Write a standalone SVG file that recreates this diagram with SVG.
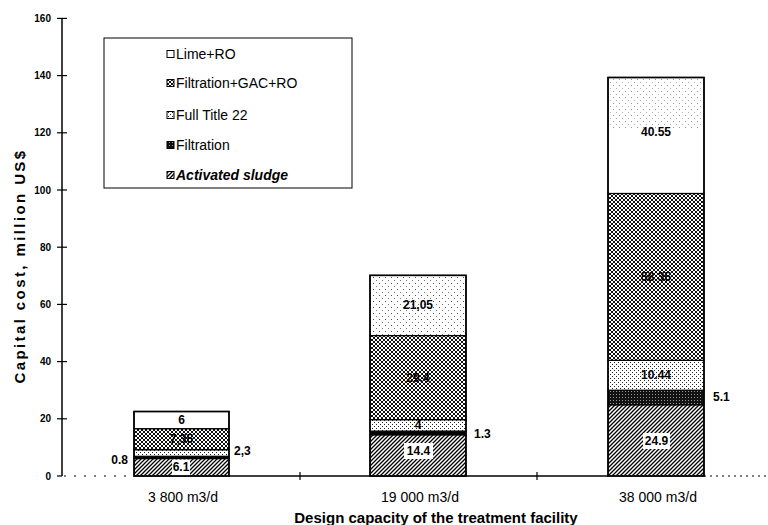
<svg xmlns="http://www.w3.org/2000/svg" width="768" height="525" viewBox="0 0 768 525">
<defs>
<pattern id="pAS" patternUnits="userSpaceOnUse" width="4" height="4">
<rect width="4" height="4" fill="#fff"/>
<path d="M-1,1 l2,-2 M0,4 l4,-4 M3,5 l2,-2" stroke="#000" stroke-width="1.3"/>
</pattern>
<pattern id="pF" patternUnits="userSpaceOnUse" width="3" height="3">
<rect width="3" height="3" fill="#111"/>
<rect x="1" y="1" width="1" height="1" fill="#999"/>
</pattern>
<pattern id="pT" patternUnits="userSpaceOnUse" width="4" height="4">
<rect width="4" height="4" fill="#fff"/>
<rect x="0" y="0" width="1" height="1" fill="#222"/>
<rect x="2" y="2" width="1" height="1" fill="#222"/>
</pattern>
<pattern id="pG" patternUnits="userSpaceOnUse" width="4" height="4">
<rect width="4" height="4" fill="#fff"/>
<path d="M-1,1 l2,-2 M0,4 l4,-4 M3,5 l2,-2 M-1,3 l2,2 M0,0 l4,4 M3,-1 l2,2" stroke="#111" stroke-width="1"/>
</pattern>
<pattern id="pL" patternUnits="userSpaceOnUse" width="6" height="6">
<rect width="6" height="6" fill="#fff"/>
<rect x="1" y="1" width="1" height="1" fill="#555"/>
<rect x="4" y="4" width="1" height="1" fill="#777"/>
</pattern>
<style>
.seg{stroke:#000;stroke-width:1.2}
.bar{fill:none;stroke:#000;stroke-width:1.6}
.lab{font-family:"Liberation Sans",Arial,sans-serif;font-size:12px;font-weight:bold;fill:#000;text-anchor:middle}
.side{font-family:"Liberation Sans",Arial,sans-serif;font-size:12px;font-weight:bold;fill:#000}
.tick{font-family:"Liberation Sans",Arial,sans-serif;font-size:10px;font-weight:bold;fill:#000;text-anchor:end}
.cat{font-family:"Liberation Sans",Arial,sans-serif;font-size:14px;fill:#000;text-anchor:middle}
.leg{font-family:"Liberation Sans",Arial,sans-serif;font-size:14px;fill:#000}
.sw{stroke:#000;stroke-width:1}
</style>
</defs>
<rect width="768" height="525" fill="#fff"/>

<g id="axes" stroke="#000">
<line x1="62" y1="18" x2="62" y2="476" stroke-width="1.5"/>
<g stroke-width="1.2">
<line x1="57" y1="18.4" x2="67" y2="18.4"/>
<line x1="57" y1="75.6" x2="67" y2="75.6"/>
<line x1="57" y1="132.8" x2="67" y2="132.8"/>
<line x1="57" y1="190" x2="67" y2="190"/>
<line x1="57" y1="247.2" x2="67" y2="247.2"/>
<line x1="57" y1="304.4" x2="67" y2="304.4"/>
<line x1="57" y1="361.6" x2="67" y2="361.6"/>
<line x1="57" y1="418.8" x2="67" y2="418.8"/>
<line x1="57" y1="476" x2="62" y2="476"/>
</g>
<line x1="64" y1="476" x2="134" y2="476" stroke-width="1.2" stroke-dasharray="2 8"/>
<line x1="229" y1="476" x2="608" y2="476" stroke-width="1.5"/>
<line x1="704" y1="476" x2="768" y2="476" stroke-width="1" stroke-dasharray="2 4"/>
<line x1="300" y1="472" x2="300" y2="480" stroke-width="1.2"/>
<line x1="537" y1="472" x2="537" y2="480" stroke-width="1.2"/>
</g>

<g id="ticklabels">
<text class="tick" x="51" y="22">160</text>
<text class="tick" x="51" y="79">140</text>
<text class="tick" x="51" y="136">120</text>
<text class="tick" x="51" y="194">100</text>
<text class="tick" x="51" y="251">80</text>
<text class="tick" x="51" y="308">60</text>
<text class="tick" x="51" y="365">40</text>
<text class="tick" x="51" y="422">20</text>
<text class="tick" x="51" y="480">0</text>
</g>

<g id="bar1">
<rect class="seg" x="134" y="458.55" width="95" height="17.45" fill="url(#pAS)"/>
<rect x="172" y="459.5" width="18" height="16" fill="#fff"/>
<rect class="seg" x="134" y="456.27" width="95" height="2.28" fill="#000"/>
<rect class="seg" x="134" y="449.69" width="95" height="6.58" fill="url(#pT)"/>
<rect class="seg" x="134" y="428.67" width="95" height="21.02" fill="url(#pG)"/>
<rect class="seg" x="134" y="411.51" width="95" height="17.16" fill="#fff"/>
<rect class="bar" x="134" y="411.51" width="95" height="64.49"/>
<text class="lab" x="181.5" y="424">6</text>
<text class="lab" x="181.5" y="443">7,35</text>
<text class="lab" x="181" y="471">6.1</text>
<text class="side" x="234" y="455">2,3</text>
<text class="side" x="128" y="464" text-anchor="end">0.8</text>
</g>

<g id="bar2">
<rect class="seg" x="370" y="434.82" width="96" height="41.18" fill="url(#pAS)"/>
<rect x="404" y="443" width="29" height="16" fill="#fff"/>
<rect class="seg" x="370" y="431.1" width="96" height="3.72" fill="#000"/>
<rect class="seg" x="370" y="419.66" width="96" height="11.44" fill="url(#pT)"/>
<rect class="seg" x="370" y="335.57" width="96" height="84.09" fill="url(#pG)"/>
<rect class="seg" x="370" y="275.37" width="96" height="60.2" fill="url(#pL)"/>
<rect class="bar" x="370" y="275.37" width="96" height="200.63"/>
<text class="lab" x="418" y="309">21,05</text>
<text class="lab" x="418" y="382">29.4</text>
<text class="lab" x="418" y="429">4</text>
<text class="lab" x="418.5" y="455">14.4</text>
<text class="side" x="474" y="438">1.3</text>
</g>

<g id="bar3">
<rect class="seg" x="608" y="404.79" width="96" height="71.21" fill="url(#pAS)"/>
<rect x="643" y="433" width="27" height="16" fill="#fff"/>
<rect class="seg" x="608" y="390.2" width="96" height="14.59" fill="url(#pF)"/>
<rect class="seg" x="608" y="360.34" width="96" height="29.86" fill="url(#pT)"/>
<rect class="seg" x="608" y="193.46" width="96" height="166.88" fill="url(#pG)"/>
<rect class="seg" x="608" y="77.49" width="96" height="115.97" fill="#fff"/>
<rect x="610" y="79" width="92" height="50" fill="url(#pL)" opacity="0.6"/>
<rect class="bar" x="608" y="77.49" width="96" height="398.51"/>
<text class="lab" x="656" y="136">40.55</text>
<text class="lab" x="656" y="281">58.35</text>
<text class="lab" x="656" y="379">10.44</text>
<text class="lab" x="656.5" y="445">24.9</text>
<text class="side" x="713" y="401">5.1</text>
</g>

<g id="legend">
<rect x="104" y="38" width="248" height="150" fill="#fff" stroke="#000" stroke-width="1"/>
<rect class="sw" x="167" y="50.5" width="7" height="7" fill="#fff"/>
<text class="leg" x="176" y="59">Lime+RO</text>
<rect class="sw" x="167" y="79.5" width="7" height="7" fill="url(#pG)"/>
<text class="leg" x="176" y="88">Filtration+GAC+RO</text>
<rect class="sw" x="167" y="111.5" width="7" height="7" fill="url(#pT)"/>
<text class="leg" x="176" y="120">Full Title 22</text>
<rect class="sw" x="167" y="141.5" width="7" height="7" fill="url(#pF)"/>
<text class="leg" x="176" y="150">Filtration</text>
<rect class="sw" x="167" y="171.5" width="7" height="7" fill="url(#pAS)"/>
<text class="leg" x="176" y="180" font-style="italic" font-weight="bold">Activated sludge</text>
</g>

<g id="labels">
<text class="cat" x="183" y="502">3 800 m3/d</text>
<text class="cat" x="420" y="502">19 000 m3/d</text>
<text class="cat" x="658" y="502">38 000 m3/d</text>
<text x="436" y="523" font-family="'Liberation Sans',Arial,sans-serif" font-size="15" font-weight="bold" text-anchor="middle">Design capacity of the treatment facility</text>
<text x="0" y="0" transform="translate(25,266) rotate(-90)" font-family="'Liberation Sans',Arial,sans-serif" font-size="15" font-weight="bold" letter-spacing="2.4" text-anchor="middle">Capital cost, million US$</text>
</g>
</svg>
